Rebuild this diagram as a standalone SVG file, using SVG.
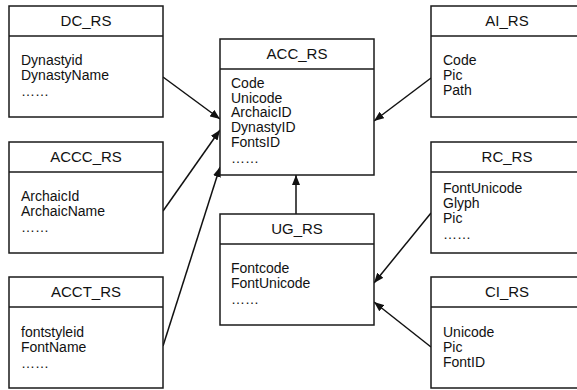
<svg xmlns="http://www.w3.org/2000/svg" width="577" height="390" viewBox="0 0 577 390">
  <style>
    .box { fill: #ffffff; stroke: #1a1a1a; stroke-width: 1.5; }
    .hdr { stroke: #1a1a1a; stroke-width: 1.5; }
    .title { font-family: "Liberation Sans", Arial, sans-serif; font-size: 15px; fill: #111; text-anchor: middle; }
    .item { font-family: "Liberation Sans", Arial, sans-serif; font-size: 14px; fill: #111; }
    .conn { stroke: #111; stroke-width: 1.5; fill: none; marker-end: url(#arrow); }
  </style>
  <defs>
    <marker id="arrow" markerUnits="userSpaceOnUse" markerWidth="10" markerHeight="8" refX="10" refY="4" orient="auto">
      <path d="M0,0 L10,4 L0,8 Z" fill="#111"/>
    </marker>
  </defs>
  <rect width="577" height="390" fill="#ffffff"/>

  <g id="connectors">
    <line class="conn" x1="163" y1="77" x2="220" y2="119"/>
    <line class="conn" x1="163" y1="211" x2="220" y2="130"/>
    <line class="conn" x1="163" y1="346" x2="220" y2="167"/>
    <line class="conn" x1="296" y1="214" x2="296" y2="175"/>
    <line class="conn" x1="431" y1="78" x2="374" y2="121"/>
    <line class="conn" x1="431" y1="213" x2="374" y2="283"/>
    <line class="conn" x1="431" y1="347" x2="374" y2="302"/>
  </g>

  <g id="DC_RS">
    <rect class="box" x="9" y="6" width="154" height="111"/>
    <line class="hdr" x1="9" y1="36" x2="163" y2="36"/>
    <text class="title" x="86" y="26">DC_RS</text>
    <text class="item" x="21" y="65">Dynastyid</text>
    <text class="item" x="21" y="80">DynastyName</text>
    <text class="item" x="21" y="96">……</text>
  </g>

  <g id="ACCC_RS">
    <rect class="box" x="9" y="142" width="154" height="111"/>
    <line class="hdr" x1="9" y1="172" x2="163" y2="172"/>
    <text class="title" x="86" y="162">ACCC_RS</text>
    <text class="item" x="21" y="201">ArchaicId</text>
    <text class="item" x="21" y="216">ArchaicName</text>
    <text class="item" x="21" y="232">……</text>
  </g>

  <g id="ACCT_RS">
    <rect class="box" x="9" y="277" width="154" height="111"/>
    <line class="hdr" x1="9" y1="307" x2="163" y2="307"/>
    <text class="title" x="86" y="297">ACCT_RS</text>
    <text class="item" x="21" y="337">fontstyleid</text>
    <text class="item" x="21" y="352">FontName</text>
    <text class="item" x="21" y="368">……</text>
  </g>

  <g id="ACC_RS">
    <rect class="box" x="220" y="39" width="154" height="136"/>
    <line class="hdr" x1="220" y1="69" x2="374" y2="69"/>
    <text class="title" x="297" y="59">ACC_RS</text>
    <text class="item" x="231" y="88">Code</text>
    <text class="item" x="231" y="102.5">Unicode</text>
    <text class="item" x="231" y="117">ArchaicID</text>
    <text class="item" x="231" y="132">DynastyID</text>
    <text class="item" x="231" y="146.5">FontsID</text>
    <text class="item" x="231" y="163">……</text>
  </g>

  <g id="UG_RS">
    <rect class="box" x="220" y="214" width="154" height="111"/>
    <line class="hdr" x1="220" y1="244" x2="374" y2="244"/>
    <text class="title" x="297" y="234">UG_RS</text>
    <text class="item" x="231" y="273">Fontcode</text>
    <text class="item" x="231" y="288">FontUnicode</text>
    <text class="item" x="231" y="304">……</text>
  </g>

  <g id="AI_RS">
    <rect class="box" x="431" y="6" width="152" height="111"/>
    <line class="hdr" x1="431" y1="36" x2="583" y2="36"/>
    <text class="title" x="507" y="26">AI_RS</text>
    <text class="item" x="443" y="65">Code</text>
    <text class="item" x="443" y="80">Pic</text>
    <text class="item" x="443" y="95">Path</text>
  </g>

  <g id="RC_RS">
    <rect class="box" x="431" y="142" width="152" height="111"/>
    <line class="hdr" x1="431" y1="172" x2="583" y2="172"/>
    <text class="title" x="507" y="162">RC_RS</text>
    <text class="item" x="443" y="193">FontUnicode</text>
    <text class="item" x="443" y="208">Glyph</text>
    <text class="item" x="443" y="223">Pic</text>
    <text class="item" x="443" y="239">……</text>
  </g>

  <g id="CI_RS">
    <rect class="box" x="431" y="277" width="152" height="111"/>
    <line class="hdr" x1="431" y1="307" x2="583" y2="307"/>
    <text class="title" x="507" y="297">CI_RS</text>
    <text class="item" x="443" y="337">Unicode</text>
    <text class="item" x="443" y="352">Pic</text>
    <text class="item" x="443" y="367">FontID</text>
  </g>
</svg>
